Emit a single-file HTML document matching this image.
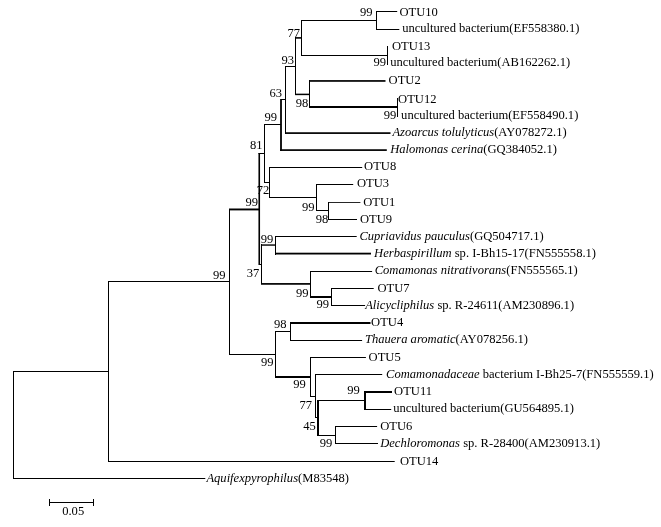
<!DOCTYPE html>
<html><head><meta charset="utf-8"><title>Phylogenetic tree</title>
<style>html,body{margin:0;padding:0;background:#fff;width:661px;height:527px;overflow:hidden;}svg{display:block;position:absolute;left:0;top:0;will-change:transform;}text{font-family:"Liberation Serif",serif;font-size:12.57px;fill:#000;}.i{font-style:italic;}</style></head><body>
<svg width="661" height="527" viewBox="0 0 661 527">
<rect x="0" y="0" width="661" height="527" fill="#fff"/>
<g fill="#000" id="lines">
<rect x="13" y="371" width="1" height="108"/>
<rect x="13" y="478" width="192.3" height="1"/>
<rect x="13" y="371" width="95" height="1"/>
<rect x="108" y="281" width="1" height="181"/>
<rect x="108" y="461" width="286.7" height="1"/>
<rect x="108" y="281" width="121" height="1"/>
<rect x="229" y="209" width="1" height="146"/>
<rect x="229" y="354" width="46" height="1"/>
<rect x="275" y="331" width="1" height="47"/>
<rect x="275" y="331" width="15" height="1"/>
<rect x="275" y="376" width="35" height="2"/>
<rect x="290" y="322" width="1" height="19"/>
<rect x="290" y="322" width="80.5" height="2"/>
<rect x="290" y="340" width="72.1" height="1"/>
<rect x="310" y="357" width="1" height="40"/>
<rect x="310" y="357" width="55.9" height="1"/>
<rect x="310" y="396" width="5" height="1"/>
<rect x="315" y="374" width="1" height="44"/>
<rect x="315" y="374" width="67.2" height="1"/>
<rect x="315" y="417" width="3" height="1"/>
<rect x="317" y="400" width="2" height="36"/>
<rect x="318" y="400" width="46" height="1"/>
<rect x="318" y="435" width="17" height="1"/>
<rect x="364" y="391" width="2" height="19"/>
<rect x="364" y="391" width="28" height="2"/>
<rect x="364" y="409" width="27.2" height="1"/>
<rect x="335" y="426" width="1" height="18"/>
<rect x="335" y="426" width="42.1" height="1"/>
<rect x="335" y="443" width="43" height="1"/>
<rect x="258.5" y="153" width="5.5" height="1"/>
<rect x="259" y="264" width="2" height="1"/>
<rect x="264" y="124" width="1" height="59"/>
<rect x="264" y="124" width="17" height="1"/>
<rect x="264" y="182" width="5" height="1"/>
<rect x="281" y="99" width="4" height="1"/>
<rect x="285" y="66" width="1" height="68"/>
<rect x="285" y="66" width="10" height="1"/>
<rect x="295" y="37" width="1" height="58"/>
<rect x="301" y="20" width="1" height="36"/>
<rect x="301" y="20" width="75" height="1"/>
<rect x="301" y="55" width="86" height="1"/>
<rect x="376" y="11" width="1" height="19"/>
<rect x="376" y="11" width="21.2" height="1"/>
<rect x="376" y="29" width="23.3" height="1"/>
<rect x="387" y="46" width="1" height="19"/>
<rect x="309" y="80" width="1" height="28"/>
<rect x="309" y="106" width="88" height="2"/>
<rect x="397" y="98" width="1" height="19"/>
<rect x="269" y="167" width="1" height="31"/>
<rect x="269" y="167" width="93.2" height="1"/>
<rect x="269" y="197" width="47" height="1"/>
<rect x="316" y="184" width="1" height="27"/>
<rect x="316" y="184" width="37.2" height="1"/>
<rect x="316" y="210" width="12" height="1"/>
<rect x="328" y="202" width="1" height="18"/>
<rect x="328" y="219" width="29" height="1"/>
<rect x="261" y="244" width="1" height="40"/>
<rect x="275" y="236" width="1" height="19"/>
<rect x="275" y="236" width="81.7" height="1"/>
<rect x="310" y="271" width="1" height="27"/>
<rect x="310" y="271" width="62.1" height="1"/>
<rect x="310" y="296" width="21" height="2"/>
<rect x="331" y="288" width="1" height="18"/>
<rect x="331" y="288" width="42.7" height="1"/>
<rect x="331" y="305" width="34.1" height="1"/>
<rect x="49" y="502" width="45" height="1"/>
<rect x="49" y="499" width="1" height="7"/>
<rect x="93" y="499" width="1" height="7"/>
</g>
<g fill="#000">
<rect x="229.00" y="208.50" width="30.00" height="1.90"/>
<rect x="258.45" y="153.00" width="1.60" height="112.00"/>
<rect x="280.10" y="99.00" width="1.80" height="52.00"/>
<rect x="280.10" y="149.25" width="106.70" height="1.70"/>
<rect x="285.00" y="132.25" width="105.50" height="1.70"/>
<rect x="295.00" y="37.10" width="6.00" height="1.60"/>
<rect x="295.00" y="93.65" width="14.00" height="1.50"/>
<rect x="309.00" y="80.10" width="76.50" height="1.70"/>
<rect x="328.00" y="202.02" width="32.40" height="0.85"/>
<rect x="261.00" y="244.35" width="14.00" height="1.40"/>
<rect x="261.00" y="283.05" width="49.00" height="1.70"/>
<rect x="275.00" y="252.70" width="96.00" height="1.80"/>
</g>
<g>
<text x="399.4" y="16.4" xml:space="preserve"><tspan>OTU10</tspan></text>
<text x="402.2" y="32.0" xml:space="preserve"><tspan>uncultured bacterium(EF558380.1)</tspan></text>
<text x="391.9" y="49.7" xml:space="preserve"><tspan>OTU13</tspan></text>
<text x="390.2" y="66.0" xml:space="preserve"><tspan>uncultured bacterium(AB162262.1)</tspan></text>
<text x="388.6" y="83.8" xml:space="preserve"><tspan>OTU2</tspan></text>
<text x="398.1" y="102.7" xml:space="preserve"><tspan>OTU12</tspan></text>
<text x="401.1" y="118.5" xml:space="preserve"><tspan>uncultured bacterium(EF558490.1)</tspan></text>
<text x="392.4" y="135.8" xml:space="preserve"><tspan class="i">Azoarcus tolulyticus</tspan><tspan>(AY078272.1)</tspan></text>
<text x="390.2" y="153.3" xml:space="preserve"><tspan class="i">Halomonas cerina</tspan><tspan>(GQ384052.1)</tspan></text>
<text x="364.1" y="170.3" xml:space="preserve"><tspan>OTU8</tspan></text>
<text x="356.9" y="187.2" xml:space="preserve"><tspan>OTU3</tspan></text>
<text x="363.2" y="206.3" xml:space="preserve"><tspan>OTU1</tspan></text>
<text x="359.9" y="223.0" xml:space="preserve"><tspan>OTU9</tspan></text>
<text x="359.4" y="239.7" xml:space="preserve"><tspan class="i">Cupriavidus pauculus</tspan><tspan>(GQ504717.1)</tspan></text>
<text x="374.1" y="256.5" xml:space="preserve"><tspan class="i">Herbaspirillum</tspan><tspan> sp. I-Bh15-17(FN555558.1)</tspan></text>
<text x="374.7" y="274.2" xml:space="preserve"><tspan class="i">Comamonas nitrativorans</tspan><tspan>(FN555565.1)</tspan></text>
<text x="377.4" y="292.0" xml:space="preserve"><tspan>OTU7</tspan></text>
<text x="365.2" y="308.7" xml:space="preserve"><tspan class="i">Alicycliphilus</tspan><tspan> sp. R-24611(AM230896.1)</tspan></text>
<text x="371.1" y="326.3" xml:space="preserve"><tspan>OTU4</tspan></text>
<text x="364.9" y="343.3" xml:space="preserve"><tspan class="i">Thauera aromatic</tspan><tspan>(AY078256.1)</tspan></text>
<text x="368.6" y="360.5" xml:space="preserve"><tspan>OTU5</tspan></text>
<text x="386.1" y="377.8" xml:space="preserve"><tspan class="i">Comamonadaceae</tspan><tspan> bacterium I-Bh25-7(FN555559.1)</tspan></text>
<text x="394.1" y="394.6" xml:space="preserve"><tspan>OTU11</tspan></text>
<text x="393.2" y="412.0" xml:space="preserve"><tspan>uncultured bacterium(GU564895.1)</tspan></text>
<text x="380.2" y="430.0" xml:space="preserve"><tspan>OTU6</tspan></text>
<text x="380.2" y="446.8" xml:space="preserve"><tspan class="i">Dechloromonas</tspan><tspan> sp. R-28400(AM230913.1)</tspan></text>
<text x="399.9" y="464.8" xml:space="preserve"><tspan>OTU14</tspan></text>
<text x="206.4" y="481.7" xml:space="preserve"><tspan class="i">Aquifexpyrophilus</tspan><tspan>(M83548)</tspan></text>
<text x="62.2" y="515.0" xml:space="preserve"><tspan>0.05</tspan></text>
<text x="213.0" y="279.0">99</text>
<text x="246.8" y="277.0">37</text>
<text x="296.0" y="297.0">99</text>
<text x="316.5" y="308.0">99</text>
<text x="274.0" y="328.0">98</text>
<text x="261.0" y="366.0">99</text>
<text x="293.3" y="388.0">99</text>
<text x="299.5" y="408.8">77</text>
<text x="303.2" y="430.0">45</text>
<text x="347.3" y="394.2">99</text>
<text x="319.8" y="447.0">99</text>
<text x="360.0" y="16.2">99</text>
<text x="287.5" y="37.0">77</text>
<text x="373.4" y="66.0">99</text>
<text x="281.5" y="63.8">93</text>
<text x="295.7" y="107.0">98</text>
<text x="269.5" y="97.0">63</text>
<text x="264.5" y="120.5">99</text>
<text x="383.7" y="118.5">99</text>
<text x="250.0" y="149.2">81</text>
<text x="256.8" y="194.0">72</text>
<text x="245.5" y="206.3">99</text>
<text x="302.0" y="210.5">99</text>
<text x="315.7" y="222.5">98</text>
<text x="260.8" y="242.5">99</text>
</g>
</svg></body></html>
